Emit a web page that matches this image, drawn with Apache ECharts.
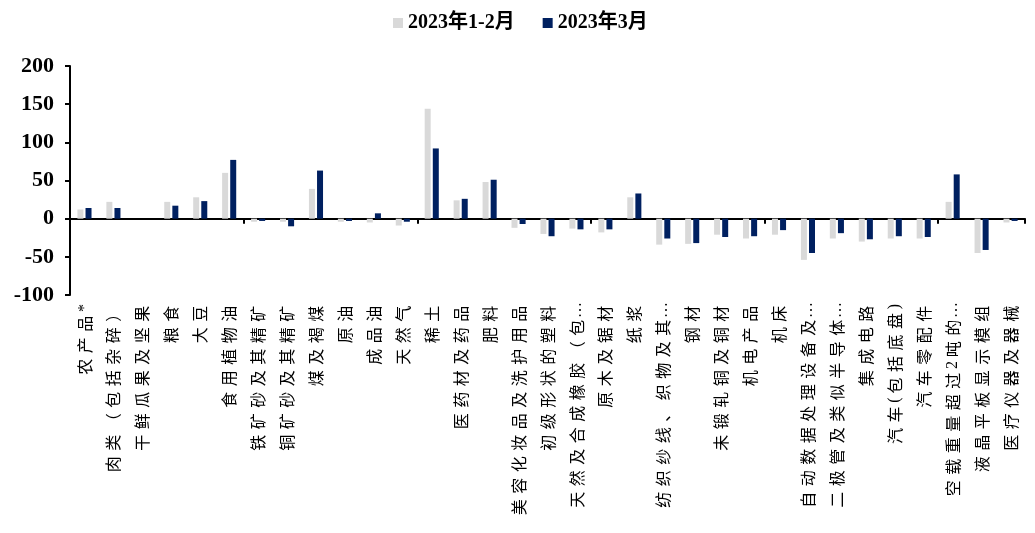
<!DOCTYPE html>
<html>
<head>
<meta charset="utf-8">
<script src="https://cdn.jsdelivr.net/npm/echarts@6/dist/echarts.min.js"></script>
<style>
  html, body { margin: 0; padding: 0; background: #ffffff; }
  #chart { width: 1035px; height: 533px; }
</style>
</head>
<body>
<div id="chart"></div>
<script>
// Import categories (year-on-year change, %)
const categories = [
  '农产品*', '肉类（包括杂碎）', '干鲜瓜果及坚果', '粮食', '大豆', '食用植物油',
  '铁矿砂及其精矿', '铜矿砂及其精矿', '煤及褐煤', '原油', '成品油', '天然气', '稀土',
  '医药材及药品', '肥料', '美容化妆品及洗护用品', '初级形状的塑料', '天然及合成橡胶（包…',
  '原木及锯材', '纸浆', '纺织纱线、织物及其…', '钢材', '未锻轧铜及铜材', '机电产品', '机床',
  '自动数据处理设备及…', '二极管及类似半导体…', '集成电路', '汽车(包括底盘)', '汽车零配件',
  '空载重量超过2吨的…', '液晶平板显示模组', '医疗仪器及器械'
];

const seriesNames = ['2023年1-2月', '2023年3月'];

const janFeb = [12, 22, 0, 22, 28, 60, -4, -4, 39, -4, -5, -9, 144, 24, 48, -12, -20, -13, -18, 28,
  -34, -33, -21, -26, -21, -54, -26, -30, -26, -26, 22, -45, -5];

const march = [14, 14, 0, 17, 23, 77, -3, -10, 63, -3, 7, -4, 92, 26, 51, -7, -23, -14, -14, 33,
  -26, -32, -24, -23, -15, -45, -19, -27, -23, -24, 58, -41, -3];

const yTicks = { min: -100, max: 200, interval: 50 };

const SERIF = '"Liberation Serif", "Noto Sans CJK SC", serif';
const CJK = '"Noto Sans CJK SC", "Liberation Serif", sans-serif';

// Spread each character of a category name over an even pitch.
function spread(name) {
  return Array.from(name).map(function (ch) {
    const code = ch.charCodeAt(0);
    if (ch === '…') return '{e|' + ch + '}';
    return (code > 0x2000 ? '{w|' : '{n|') + ch + '}';
  }).join('');
}

const chart = echarts.init(document.getElementById('chart'), null, { renderer: 'canvas' });

chart.setOption({
  animation: false,
  backgroundColor: '#ffffff',
  legend: {
    top: 8,
    left: 388,
    itemWidth: 10,
    itemHeight: 10,
    itemGap: 28,
    icon: 'rect',
    textStyle: { fontFamily: SERIF, fontWeight: 'bold', fontSize: 20, color: '#000' },
    data: seriesNames
  },
  grid: { left: 70, right: 10, top: 66, bottom: 238, containLabel: false },
  xAxis: [
    {
      type: 'category',
      data: categories,
      axisLine: { onZero: true, lineStyle: { color: '#000', width: 2 } },
      axisTick: { show: true, length: 5, lineStyle: { color: '#000', width: 2 } },
      axisLabel: { show: false },
      splitLine: { show: false }
    },
    {
      type: 'category',
      data: categories,
      position: 'bottom',
      axisLine: { show: false, onZero: false },
      axisTick: { show: false },
      splitLine: { show: false },
      axisLabel: {
        show: true,
        interval: 0,
        rotate: 90,
        margin: 8,
        formatter: spread,
        rich: {
          w: { fontFamily: CJK, fontSize: 16, color: '#000', width: 21.5, align: 'center' },
          n: { fontFamily: SERIF, fontSize: 16, color: '#000', padding: [0, 1, 0, 1] },
          e: { fontFamily: SERIF, fontSize: 16, color: '#000', width: 14, align: 'center' }
        }
      }
    }
  ],
  yAxis: {
    type: 'value',
    min: yTicks.min,
    max: yTicks.max,
    interval: yTicks.interval,
    axisLine: { show: true, lineStyle: { color: '#000', width: 2 } },
    axisTick: { show: true, length: 5, lineStyle: { color: '#000', width: 2 } },
    splitLine: { show: false },
    axisLabel: { fontFamily: SERIF, fontWeight: 'bold', fontSize: 22, color: '#000', margin: 16 }
  },
  series: [
    {
      name: seriesNames[0],
      type: 'bar',
      xAxisIndex: 0,
      data: janFeb,
      barWidth: 6,
      barGap: '35%',
      itemStyle: { color: '#d9d9d9' }
    },
    {
      name: seriesNames[1],
      type: 'bar',
      xAxisIndex: 0,
      data: march,
      barWidth: 6,
      barGap: '35%',
      itemStyle: { color: '#002060' }
    }
  ]
});
</script>
</body>
</html>
